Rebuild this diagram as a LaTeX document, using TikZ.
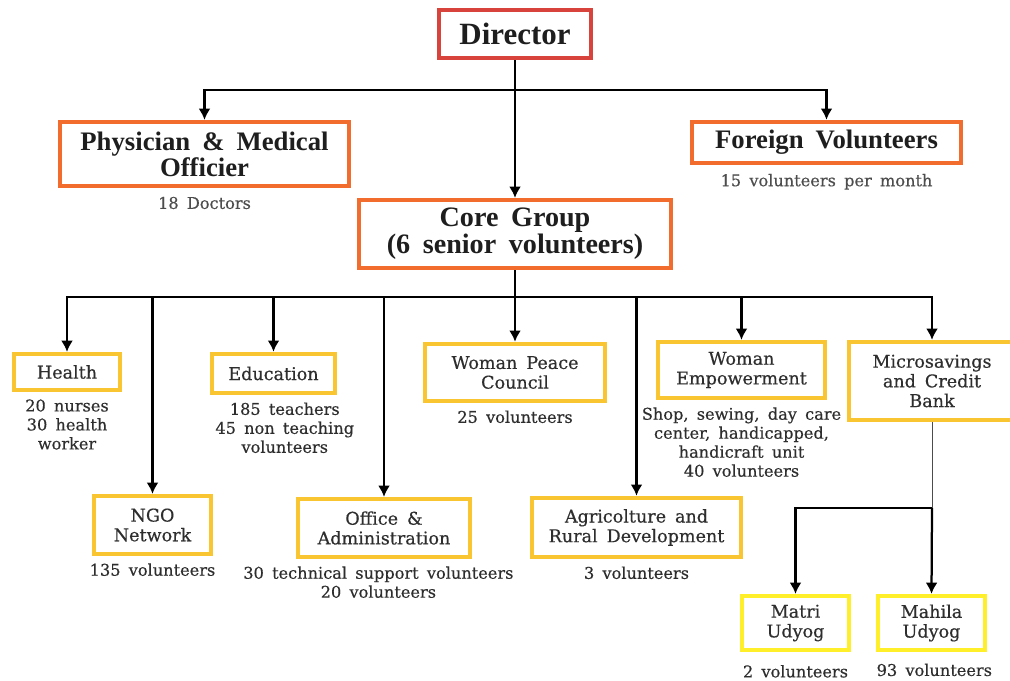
\documentclass[tikz,border=0pt]{standalone}
\usepackage{fontspec}
\setmainfont[WordSpace=1.8]{Liberation Serif}
\newfontfamily\lowfont[WordSpace=1.6,FakeBold=0.4]{DejaVu Serif}
\usetikzlibrary{arrows.meta}
\usetikzlibrary{positioning}

\definecolor{dirred}{HTML}{D8433B}
\definecolor{orgline}{HTML}{F26D2D}
\definecolor{yelline}{HTML}{F9C631}
\definecolor{lemline}{HTML}{FFEE2A}
\definecolor{txtdark}{HTML}{1E1E1E}
\definecolor{txtgray}{HTML}{2E2E2E}

\tikzset{
  topbox/.style={draw=orgline, line width=3pt, fill=white, align=center, text=txtdark,
    inner sep=0pt, font=\bfseries\fontsize{19}{16.5}\selectfont},
  lowbox/.style={draw=yelline, line width=3pt, fill=white, align=center, text=txtgray,
    inner sep=0pt, font=\lowfont\fontsize{12.5}{14}\selectfont},
  sublabel/.style={align=center, text=txtgray, inner sep=0pt,
    font=\lowfont\fontsize{11.5}{13.5}\selectfont},
  link/.style={black, line width=1.6pt, -{Latex[length=8pt,width=8.5pt]}},
}

\begin{document}
\begin{tikzpicture}[x=0.025cm, y=-0.025cm]
\useasboundingbox (0,0) rectangle (1010,680);

% top level
\node[topbox, draw=dirred, minimum width=3.8cm, minimum height=1.2cm,
  font=\bfseries\fontsize{22}{22}\selectfont] (dir) at (515,34) {Director};
\node[topbox, minimum width=7.22cm, minimum height=1.6cm] (phys) at (204.5,154)
  {Physician \& Medical\\Officier};
\node[topbox, minimum width=6.72cm, minimum height=1.03cm] (foreign) at (826.5,142.5)
  {Foreign Volunteers};
\node[topbox, minimum width=7.8cm, minimum height=1.7cm,
  font=\bfseries\fontsize{20}{17.8}\selectfont] (core) at (515,234)
  {Core Group\\(6 senior volunteers)};

\node[sublabel, text=txtgray!85, below=6pt of phys] (physsub) {18 Doctors};
\node[sublabel, text=txtgray!85, below=6pt of foreign] (foreignsub) {15 volunteers per month};

% departments
\node[lowbox, minimum width=2.65cm, minimum height=0.9cm] (health) at (67,372) {Health};
\node[lowbox, minimum width=3.08cm, minimum height=0.98cm] (edu) at (273.5,373.5) {Education};
\node[lowbox, minimum width=4.5cm, minimum height=1.43cm] (peace) at (515,372.5)
  {Woman Peace\\Council};
\node[lowbox, minimum width=4.18cm, minimum height=1.4cm] (empow) at (741.5,370)
  {Woman\\Empowerment};
\node[lowbox, minimum width=4.15cm, minimum height=1.95cm] (micro) at (932,381)
  {Microsavings\\and Credit\\Bank};
\node[lowbox, minimum width=2.93cm, minimum height=1.45cm] (ngo) at (152.5,525)
  {NGO\\Network};
\node[lowbox, minimum width=4.3cm, minimum height=1.45cm] (office) at (384,528)
  {Office \&\\Administration};
\node[lowbox, minimum width=5.22cm, minimum height=1.48cm] (agri) at (636.5,527.5)
  {Agricolture and\\Rural Development};
\node[lowbox, draw=lemline, minimum width=2.68cm, minimum height=1.35cm] (matri) at (795.5,623)
  {Matri\\Udyog};
\node[lowbox, draw=lemline, minimum width=2.68cm, minimum height=1.35cm] (mahila) at (931.5,623)
  {Mahila\\Udyog};

\node[sublabel, below=5pt of health] (healthsub) {20 nurses\\30 health\\worker};
\node[sublabel, below=5pt of edu, xshift=8pt] (edusub) {185 teachers\\45 non teaching\\volunteers};
\node[sublabel, below=5pt of peace] (peacesub) {25 volunteers};
\node[sublabel, below=5pt of empow] (empowsub)
  {Shop, sewing, day care\\center, handicapped,\\handicraft unit\\40 volunteers};
\node[sublabel, below=5pt of ngo] (ngosub) {135 volunteers};
\node[sublabel, below=5pt of office, xshift=-4pt] (officesub)
  {30 technical support volunteers\\20 volunteers};
\node[sublabel, below=5pt of agri] (agrisub) {3 volunteers};
\node[sublabel, below=9pt of matri] (matrisub) {2 volunteers};
\node[sublabel, below=8pt of mahila, xshift=2pt] (mahilasub) {93 volunteers};

% connectors
\coordinate (topbus) at (515,90);
\coordinate (corebus) at (515,297);
\coordinate (busleft) at (67,297);
\coordinate (busright) at (932,297);
\coordinate (microbus) at (932,508);

\draw[link] (dir) -- (core);
\draw[link] (topbus) -| (phys.north);
\draw[link] (topbus) -| (foreign.north);

\draw[black, line width=1.6pt] (core.south) -- (corebus);
\draw[black, line width=1.6pt] (busleft) -- (busright);
\foreach \dept in {health, ngo, edu, office, peace, agri, empow, micro} {
  \draw[link] (corebus) -| (\dept.north);
}

\draw[black!70, line width=0.7pt] (micro.south) -- (microbus);
\draw[link] (microbus) -| (matri.north);
\draw[link] (microbus) -- (mahila.north);
\end{tikzpicture}
\end{document}
